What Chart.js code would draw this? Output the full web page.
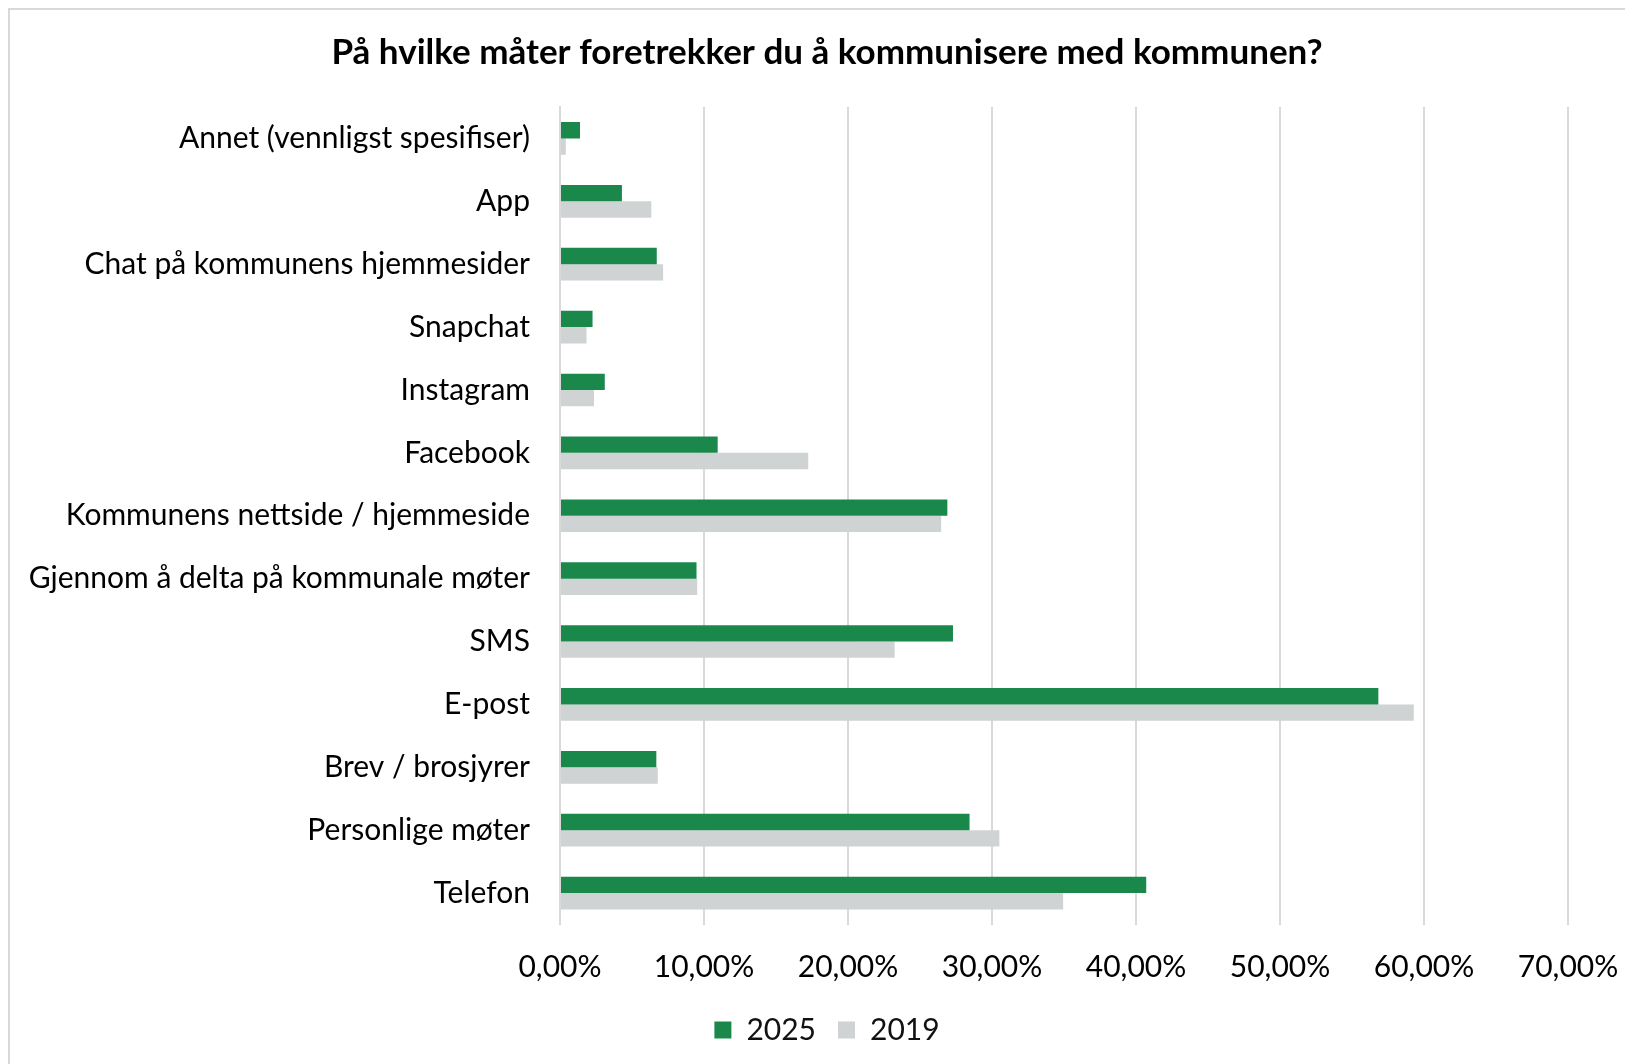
<!DOCTYPE html>
<html>
<head>
<meta charset="utf-8">
<script src="https://cdn.jsdelivr.net/npm/chart.js@4.4.1/dist/chart.umd.min.js"></script>
<style>
    html, body { margin: 0; padding: 0; background: #fff; overflow: hidden; }
    #wrap {
        position: absolute; left: 8px; top: 8px;
        width: 1634px; height: 1056px;
        border-left: 2px solid #d9d9d9; border-top: 2px solid #d9d9d9;
    }
</style>
</head>
<body>
<div id="wrap"><canvas id="chart"></canvas></div>
<script>
// Data
const categories = [
    'Annet (vennligst spesifiser)',
    'App',
    'Chat på kommunens hjemmesider',
    'Snapchat',
    'Instagram',
    'Facebook',
    'Kommunens nettside / hjemmeside',
    'Gjennom å delta på kommunale møter',
    'SMS',
    'E-post',
    'Brev / brosjyrer',
    'Personlige møter',
    'Telefon'
];
const values2025 = [1.39, 4.30, 6.72, 2.26, 3.11, 10.95, 26.90, 9.48, 27.29, 56.83, 6.69, 28.44, 40.71];
const values2019 = [0.40, 6.34, 7.16, 1.84, 2.36, 17.24, 26.47, 9.53, 23.24, 59.29, 6.79, 30.51, 34.94];
const tickLabels = ['0,00%', '10,00%', '20,00%', '30,00%', '40,00%', '50,00%', '60,00%', '70,00%'];

const FONT = 'Lato, "Open Sans", sans-serif';
const labelFont = { family: FONT, size: 30, lineHeight: 1.2 };

const ctx = document.getElementById('chart').getContext('2d');
new Chart(ctx, {
    type: 'bar',
    data: {
        labels: categories,
        datasets: [{
            label: '2025',
            data: values2025,
            backgroundColor: '#1a884b',
            borderWidth: 0,
            categoryPercentage: 0.52,
            barPercentage: 1.0
        }, {
            label: '2019',
            data: values2019,
            backgroundColor: '#cfd3d3',
            borderWidth: 0,
            categoryPercentage: 0.52,
            barPercentage: 1.0
        }]
    },
    options: {
        indexAxis: 'y',
        responsive: true,
        maintainAspectRatio: false,
        animation: false,
        layout: { padding: { bottom: 11 } },
        plugins: {
            title: {
                display: true,
                text: 'På hvilke måter foretrekker du å kommunisere med kommunen?',
                color: '#000',
                font: { family: FONT, size: 35, weight: 'bold', lineHeight: 1.2 },
                padding: { top: 22, bottom: 33 }
            },
            legend: {
                position: 'bottom',
                labels: {
                    color: '#111',
                    font: labelFont,
                    boxWidth: 17,
                    boxHeight: 17,
                    padding: 22
                }
            },
            tooltip: { enabled: false }
        },
        scales: {
            x: {
                min: 0,
                max: 70,
                ticks: {
                    stepSize: 10,
                    color: '#000',
                    font: labelFont,
                    padding: 25,
                    maxRotation: 0,
                    callback: (v, i) => tickLabels[i]
                },
                grid: { color: '#d9d9d9', lineWidth: 2, drawTicks: false },
                border: { display: false },
                afterFit: (scale) => {
                    scale.height = 68.5;
                    scale.paddingRight = 76;
                }
            },
            y: {
                ticks: {
                    color: '#000',
                    font: labelFont,
                    padding: 30
                },
                grid: { display: false, drawTicks: false },
                border: { display: true, color: '#d9d9d9', width: 2 },
                afterFit: (scale) => {
                    scale.width = 550;
                    scale.paddingTop = 0;
                    scale.paddingBottom = 0;
                }
            }
        }
    }
});
</script>
</body>
</html>
